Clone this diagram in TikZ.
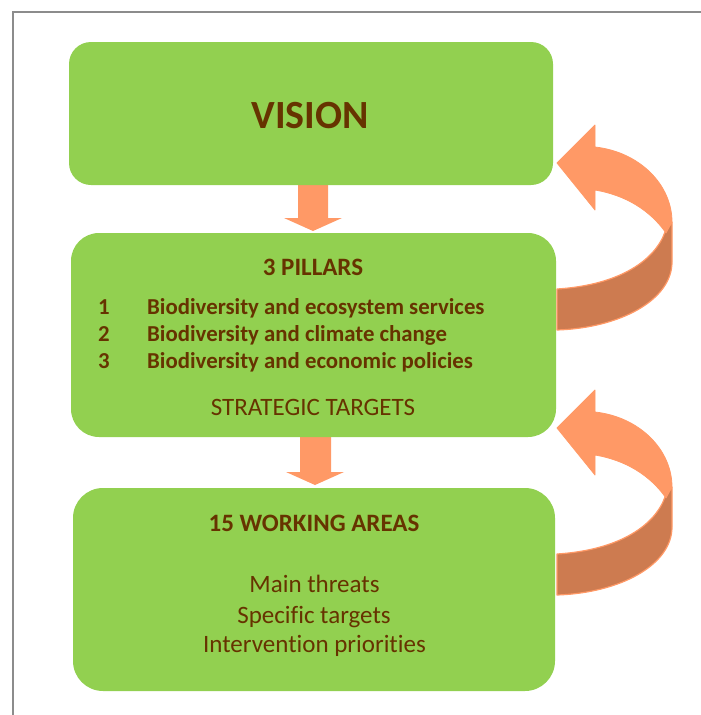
\documentclass[tikz,border=0pt]{standalone}
\usepackage{fontspec}
\setmainfont{Carlito}[Ligatures={NoCommon}]
\definecolor{boxgreen}{HTML}{92D050}
\definecolor{txtbrown}{HTML}{663300}
\definecolor{arrlight}{HTML}{FF9966}
\definecolor{arrdark}{HTML}{CD7B50}
\definecolor{framegray}{HTML}{8C8C8C}
\tikzset{
  greenbox/.style={rectangle, rounded corners=#1, fill=boxgreen, draw=none, inner sep=0pt, outer sep=0pt},
  txt/.style={text=txtbrown, inner sep=0pt, anchor=base},
  ribbonfront/.style={fill=arrlight, draw=arrlight, line width=0.8pt, line join=round},
  ribbonback/.style={fill=arrdark, draw=arrlight, line width=1.2pt, line join=round},
}
\begin{document}
\begin{tikzpicture}[x=1pt,y=-1pt]
\useasboundingbox (0,0) rectangle (701,715);
% frame
\draw[framegray, line width=2pt] (701,11.5) -- (12.5,11.5) -- (12.5,715);

% down arrows (behind boxes)
\fill[arrlight] (298,183) -- (328,183) -- (328,218) -- (342,218) -- (313,231) -- (284,218) -- (298,218) -- cycle;
\fill[arrlight] (300,437) -- (331,437) -- (331,472) -- (344,472) -- (315,485) -- (286,472) -- (300,472) -- cycle;

% boxes
\node[greenbox=22pt, minimum width=484pt, minimum height=143pt] (vision) at (311,113.5) {};
\node[greenbox=28pt, minimum width=485pt, minimum height=204pt] (pillars) at (313.5,335) {};
\node[greenbox=30pt, minimum width=482pt, minimum height=203pt] (areas) at (314,589.5) {};

% curved arrows
\foreach \dy in {0,265}{
  \begin{scope}[yshift=-\dy pt]
    \filldraw[ribbonback] (665,232) .. controls (655,260) and (620,285) .. (557,289)
      -- (557,330) .. controls (620,328) and (672,300) .. (672,262) -- (672,222) -- cycle;
    \filldraw[ribbonfront] (557,163) -- (595,125) -- (595,147)
      .. controls (640,152) and (672,185) .. (672,222) -- (666,233)
      .. controls (650,210) and (625,195) .. (595,190) -- (595,210) -- cycle;
  \end{scope}
}

% texts
\node[txt, font=\fontsize{40}{48}\selectfont\bfseries] (tvision) at (310,128) {VISION};

\node[txt, font=\fontsize{25}{30}\selectfont\bfseries] (tpillars) at (313,275) {3 PILLARS};
\node[txt, anchor=base west, font=\fontsize{22.8}{26}\selectfont\bfseries] (n1) at (98,314) {1};
\node[txt, anchor=base west, font=\fontsize{22.8}{26}\selectfont\bfseries] (n2) at (98,341) {2};
\node[txt, anchor=base west, font=\fontsize{22.8}{26}\selectfont\bfseries] (n3) at (98,368) {3};
\node[txt, anchor=base west, font=\fontsize{22.8}{26}\selectfont\bfseries] (p1) at (147,314) {Biodiversity and ecosystem services};
\node[txt, anchor=base west, font=\fontsize{22.8}{26}\selectfont\bfseries] (p2) at (147,341) {Biodiversity and climate change};
\node[txt, anchor=base west, font=\fontsize{22.8}{26}\selectfont\bfseries] (p3) at (147,368) {Biodiversity and economic policies};
\node[txt, font=\fontsize{25}{30}\selectfont] (tstrat) at (313,415) {STRATEGIC TARGETS};

\node[txt, font=\fontsize{25}{30}\selectfont\bfseries] (tareas) at (314,531) {15 WORKING AREAS};
\node[txt, font=\fontsize{25}{30}\selectfont] (a1) at (314.5,592) {Main threats};
\node[txt, font=\fontsize{25}{30}\selectfont] (a2) at (314,623) {Specific targets};
\node[txt, font=\fontsize{25}{30}\selectfont] (a3) at (314.5,652) {Intervention priorities};
\end{tikzpicture}
\end{document}
